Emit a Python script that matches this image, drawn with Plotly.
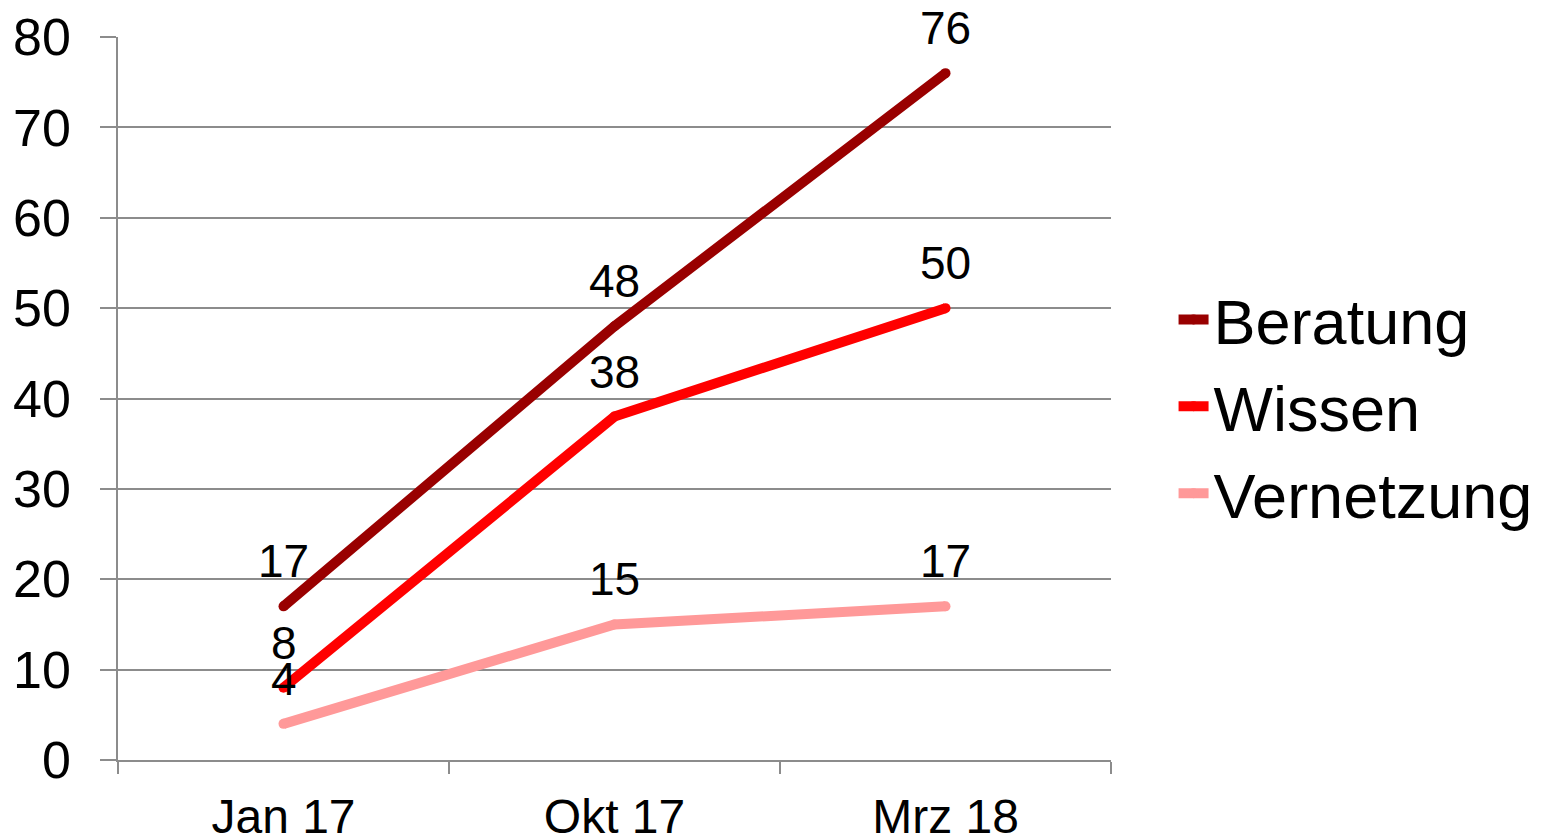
import plotly.graph_objects as go

categories = ["Jan 17", "Okt 17", "Mrz 18"]
beratung = [17, 48, 76]
wissen = [8, 38, 50]
vernetzung = [4, 15, 17]
y_ticks = [0, 10, 20, 30, 40, 50, 60, 70, 80]

series = [
    ("Beratung", beratung, "#990000"),
    ("Wissen", wissen, "#FF0000"),
    ("Vernetzung", vernetzung, "#FF9999"),
]

FONT = "Liberation Sans, Arial, sans-serif"
GRID = "#8c8c8c"

fig = go.Figure()
annotations = []
for i, (name, vals, col) in enumerate(series):
    fig.add_trace(go.Scatter(
        x=categories, y=vals, name=name, mode="lines+markers",
        line=dict(color=col, width=10),
        marker=dict(color=col, size=10),
        legendgroup=name,
    ))
    for c, v in zip(categories, vals):
        annotations.append(dict(
            x=c, y=v, text=str(v), showarrow=False, yshift=45,
            font=dict(family=FONT, size=46, color="black"),
        ))

fig.update_layout(
    width=1544, height=828,
    margin=dict(l=110, r=441, t=29, b=76, autoexpand=False),
    paper_bgcolor="white", plot_bgcolor="white",
    font=dict(family=FONT, color="black"),
    annotations=annotations,
    legend=dict(
        x=1.063, y=0.489, xanchor="left", yanchor="middle",
        font=dict(family=FONT, size=63, color="black"),
        tracegroupgap=2, bgcolor="rgba(0,0,0,0)",
    ),
    xaxis=dict(
        type="category", range=[-0.5, 2.5], tickson="boundaries",
        ticks="outside", ticklen=12, tickcolor=GRID, tickwidth=1.5,
        showline=True, linecolor=GRID, linewidth=1.5,
        showgrid=False, zeroline=False,
        tickfont=dict(family=FONT, size=48, color="black"),
        ticklabelstandoff=14, automargin=False,
    ),
    yaxis=dict(
        range=[0, 80], tickvals=y_ticks,
        ticks="outside", ticklen=16, tickcolor=GRID, tickwidth=1.5,
        showline=True, linecolor=GRID, linewidth=1.5,
        showgrid=True, gridcolor=GRID, gridwidth=1.5, zeroline=False,
        tickfont=dict(family=FONT, size=52, color="black"),
        ticklabelstandoff=19, automargin=False,
    ),
)

fig.write_html("out.html")
